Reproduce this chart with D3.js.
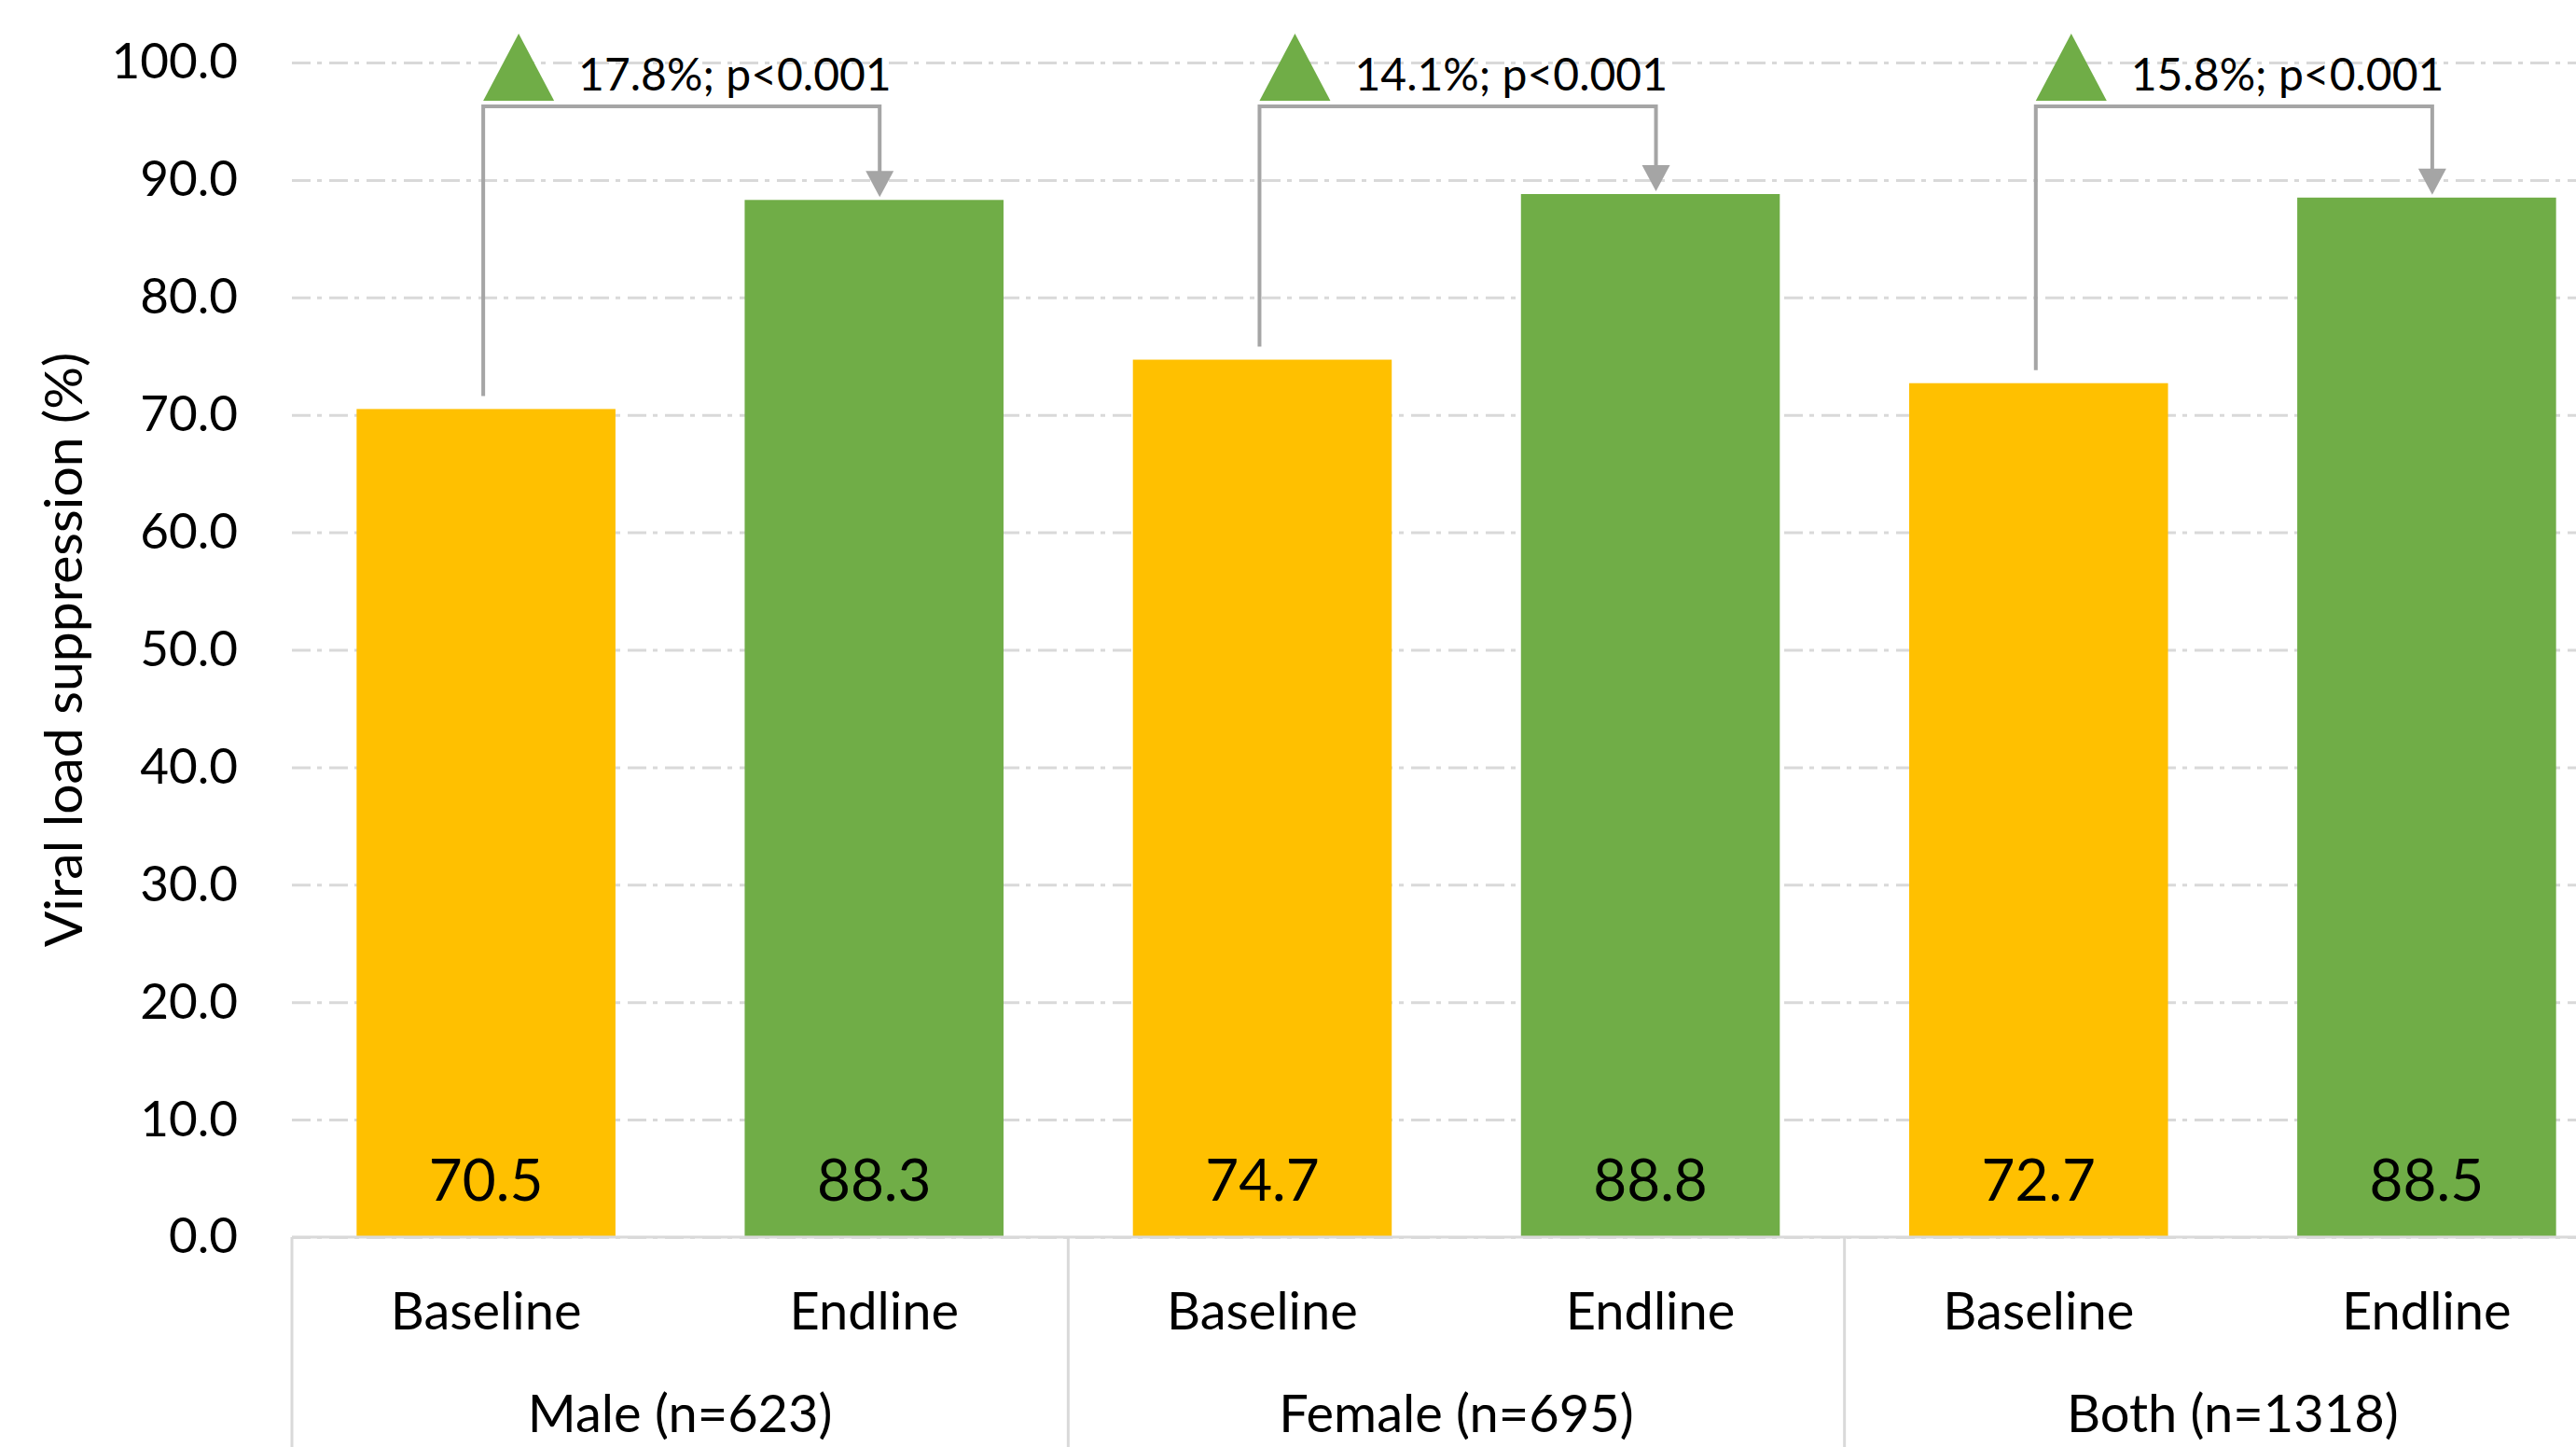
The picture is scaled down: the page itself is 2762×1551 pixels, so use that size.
<!DOCTYPE html>
<html>
<head>
<meta charset="utf-8">
<script src="https://cdn.jsdelivr.net/npm/d3@7"></script>
<style>
  body { margin: 0; background: #fff; }
  svg text { font-family: Lato, "Open Sans", sans-serif; fill: #000; }
</style>
</head>
<body>
<div id="chart"></div>
<script>
var groups = ["Male (n=623)", "Female (n=695)", "Both (n=1318)"];
var phases = ["Baseline", "Endline"];
var baseline = [70.5, 74.7, 72.7];
var endline = [88.3, 88.8, 88.5];
var changeLabels = ["17.8%; p<0.001", "14.1%; p<0.001", "15.8%; p<0.001"];
var yTicks = [0, 10, 20, 30, 40, 50, 60, 70, 80, 90, 100];
var phaseColors = ["#ffc000", "#70ad47"];

var width = 2762, height = 1551;
var margin = {top: 67, left: 313, bottom: 225};
var plotRight = 2810;   // last group runs past the picture edge, like the original
var plotBottom = height - margin.bottom;

var x0 = d3.scaleBand().domain(groups).range([margin.left, plotRight]);
var x1 = d3.scaleBand().domain(phases)
  .range([0, x0.bandwidth()])
  .paddingInner(0.333)
  .paddingOuter(0.1667);
var y = d3.scaleLinear().domain([0, 100]).range([plotBottom, margin.top]);
var color = d3.scaleOrdinal().domain(phases).range(phaseColors);

var rows = [];
groups.forEach(function(g, i){
  rows.push({group: g, phase: "Baseline", value: baseline[i]});
  rows.push({group: g, phase: "Endline", value: endline[i]});
});

var svg = d3.select("#chart").append("svg")
  .attr("width", width)
  .attr("height", height);

// dash-dot gridlines
svg.append("g")
  .attr("class", "grid")
  .attr("transform", "translate(" + margin.left + ",0)")
  .call(d3.axisLeft(y).tickValues(yTicks).tickSize(-(plotRight - margin.left)).tickFormat(""))
  .call(function(g){ g.select(".domain").remove(); })
  .selectAll("line")
    .attr("stroke", "#d9d9d9")
    .attr("stroke-width", 3)
    .attr("stroke-dasharray", "20,7,5,8");

// y tick labels
var yAxis = svg.append("g")
  .attr("transform", "translate(" + margin.left + ",0)")
  .call(d3.axisLeft(y).tickValues(yTicks).tickSize(0).tickPadding(58).tickFormat(d3.format(".1f")));
yAxis.select(".domain").remove();
yAxis.selectAll("text")
  .attr("font-size", 53)
  .attr("font-family", "Lato, 'Open Sans', sans-serif");

// bars
svg.selectAll(".bar")
  .data(rows)
  .enter().append("rect")
    .attr("class", "bar")
    .attr("x", function(d){ return x0(d.group) + x1(d.phase); })
    .attr("y", function(d){ return y(d.value); })
    .attr("width", x1.bandwidth())
    .attr("height", function(d){ return y(0) - y(d.value); })
    .attr("fill", function(d){ return color(d.phase); });

// value labels inside the bars
svg.selectAll(".value")
  .data(rows)
  .enter().append("text")
    .attr("class", "value")
    .attr("x", function(d){ return x0(d.group) + x1(d.phase) + x1.bandwidth() / 2; })
    .attr("y", y(0) - 39)
    .attr("text-anchor", "middle")
    .attr("font-size", 62)
    .text(function(d){ return d3.format(".1f")(d.value); });

// category axis (two levels)
svg.append("line")
  .attr("x1", margin.left).attr("x2", plotRight)
  .attr("y1", plotBottom).attr("y2", plotBottom)
  .attr("stroke", "#d9d9d9").attr("stroke-width", 3);

var edges = groups.map(function(g){ return x0(g); }).concat([plotRight]);
svg.selectAll(".sep")
  .data(edges)
  .enter().append("line")
    .attr("class", "sep")
    .attr("x1", function(d){ return d; }).attr("x2", function(d){ return d; })
    .attr("y1", plotBottom).attr("y2", height)
    .attr("stroke", "#d9d9d9").attr("stroke-width", 3);

svg.selectAll(".phase")
  .data(rows)
  .enter().append("text")
    .attr("class", "phase")
    .attr("x", function(d){ return x0(d.group) + x1(d.phase) + x1.bandwidth() / 2; })
    .attr("y", 1425)
    .attr("text-anchor", "middle")
    .attr("font-size", 56)
    .text(function(d){ return d.phase; });

svg.selectAll(".group")
  .data(groups)
  .enter().append("text")
    .attr("class", "group")
    .attr("x", function(d){ return x0(d) + x0.bandwidth() / 2; })
    .attr("y", 1535)
    .attr("text-anchor", "middle")
    .attr("font-size", 56)
    .text(function(d){ return d; });

// change annotations: bracket from baseline to endline, arrow, green triangle and text
var bracketY = y(100) + 47;
groups.forEach(function(g, i){
  var bx = x0(g) + x1("Baseline") + x1.bandwidth() / 2 - 3;
  var ex = x0(g) + x1("Endline") + x1.bandwidth() / 2 + 6;
  var tipY = y(endline[i]) - 3;

  svg.append("path")
    .attr("d", "M" + bx + "," + (y(baseline[i]) - 14) + "V" + bracketY + "H" + ex + "V" + (tipY - 26))
    .attr("fill", "none")
    .attr("stroke", "#a5a5a5")
    .attr("stroke-width", 4);

  svg.append("path")
    .attr("d", "M" + (ex - 15) + "," + (tipY - 28) + "L" + (ex + 15) + "," + (tipY - 28) + "L" + ex + "," + tipY + "Z")
    .attr("fill", "#a5a5a5");

  svg.append("path")
    .attr("d", "M" + bx + "," + (bracketY - 6) + "L" + (bx + 76) + "," + (bracketY - 6) + "L" + (bx + 38) + "," + (bracketY - 78) + "Z")
    .attr("fill", "#70ad47");

  svg.append("text")
    .attr("x", bx + 102)
    .attr("y", bracketY - 17)
    .attr("font-size", 48)
    .text(changeLabels[i]);
});

// y axis title
svg.append("text")
  .attr("transform", "translate(88," + (margin.top + plotBottom) / 2 + ")rotate(-90)")
  .attr("text-anchor", "middle")
  .attr("font-size", 57)
  .text("Viral load suppression (%)");
</script>
</body>
</html>
